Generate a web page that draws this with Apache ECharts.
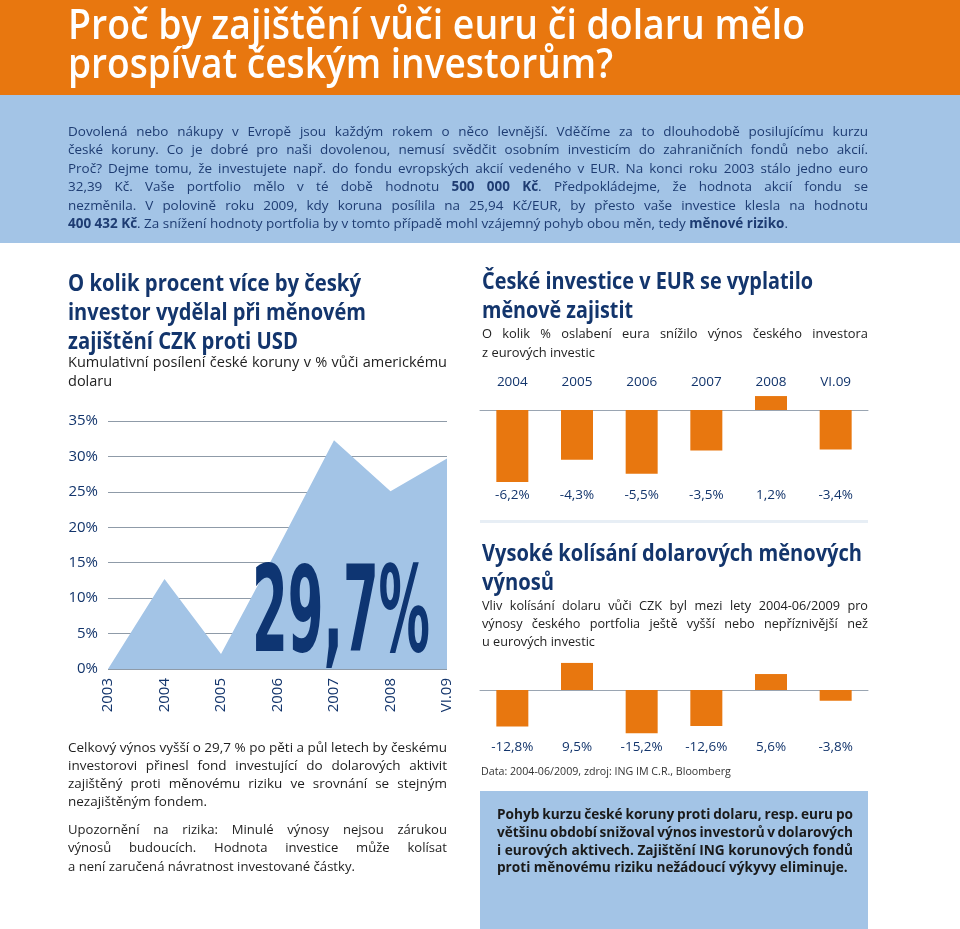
<!DOCTYPE html>
<html><head><meta charset="utf-8">
<script src="https://cdn.jsdelivr.net/npm/echarts@6/dist/echarts.min.js"></script>
<style>
html,body{margin:0;padding:0;background:#fff;}
#page{position:relative;width:960px;height:929px;overflow:hidden;background:#fff;font-family:"Open Sans",sans-serif;}
.bg{position:absolute;z-index:0;}
#chart{position:absolute;left:0;top:0;width:960px;height:929px;z-index:1;}
.ln{position:absolute;white-space:nowrap;z-index:2;}
.ln b{font-weight:700;}
</style></head>
<body><div id="page">
<div class="bg" style="left:0;top:0;width:960px;height:95px;background:#E8770F"></div>
<div class="bg" style="left:0;top:95px;width:960px;height:148px;background:#A3C4E6"></div>
<div class="bg" style="left:480px;top:520px;width:388px;height:3px;background:#E7EEF5"></div>
<div class="bg" style="left:480px;top:791px;width:388px;height:138px;background:#A3C4E6"></div>
<div id="chart"></div>
</div>
<script>
// ---------- data ----------
const years = ['2003','2004','2005','2006','2007','2008','VI.09'];
const usdCumulative = [0, 12.7, 2.1, 17.0, 32.3, 25.1, 29.7];
const yMax = 35, yStep = 5;
const barYears = ['2004','2005','2006','2007','2008','VI.09'];
const eurImpact = [-6.2, -4.3, -5.5, -3.5, 1.2, -3.4];
const usdImpact = [-12.8, 9.5, -15.2, -12.6, 5.6, -3.8];

const NAVY = '#13356C', ORANGE = '#E8770F', BLUE = '#A3C4E6', GRID = '#8F9BA8';
const FONT = '"Open Sans", sans-serif';
const fmt = v => v.toFixed(1).replace('.', ',') + '%';
const page = document.getElementById('page');

// ---------- text helpers ----------
function addLine(html, x, base, fs, weight, color){
  const d = document.createElement('div');
  d.className = 'ln';
  d.innerHTML = html;
  d.style.left = x + 'px';
  d.style.fontWeight = weight;
  d.style.color = color;
  page.appendChild(d);
  setFs(d, fs, base);
  return d;
}
function setFs(d, fs, base){
  const lh = Math.round(fs * 1.4);
  d.style.fontSize = fs + 'px';
  d.style.lineHeight = lh + 'px';
  d.style.top = (base - lh / 2 - 0.388 * fs) + 'px';
}
function w(d){ return d.getBoundingClientRect().width; }
function fit(d, target){ d.style.transformOrigin = '0 0'; d.style.transform = 'scaleX(' + (target / w(d)) + ')'; }
function justify(d, target){
  const n = (d.textContent.match(/ /g) || []).length;
  if (n) d.style.wordSpacing = ((target - w(d)) / n) + 'px';
}
function para(lines, x, width, fs, weight, color, refIdx, refWidth){
  const els = lines.map(l => addLine(l[0], x, l[1], fs, weight, color));
  const f = fs * refWidth / w(els[refIdx]);
  els.forEach((d, i) => { setFs(d, f, lines[i][1]); });
  els.forEach((d, i) => { if (lines[i][2]) justify(d, width); });
  return f;
}
function heading(lines, x, fs, weight, color){
  lines.forEach(l => { const d = addLine(l[0], x, l[1], fs, weight, color); fit(d, l[2]); });
}

// title
heading([['Proč by zajištění vůči euru či dolaru mělo', 39, 737], ['prospívat českým investorům?', 78, 545]], 68, 42, 600, '#fff');

// intro
para([
 ['Dovolená nebo nákupy v Evropě jsou každým rokem o něco levnější. Vděčíme za to dlouhodobě posilujícímu kurzu', 137, true],
 ['české koruny. Co je dobré pro naši dovolenou, nemusí svědčit osobním investicím do zahraničních fondů nebo akcií.', 155, true],
 ['Proč? Dejme tomu, že investujete např. do fondu evropských akcií vedeného v EUR. Na konci roku 2003 stálo jedno euro', 174, true],
 ['32,39 Kč. Vaše portfolio mělo v té době hodnotu <b>500 000 Kč</b>. Předpokládejme, že hodnota akcií fondu se', 192, true],
 ['nezměnila. V polovině roku 2009, kdy koruna posílila na 25,94 Kč/EUR, by přesto vaše investice klesla na hodnotu', 211, true],
 ['<b>400 432 Kč</b>. Za snížení hodnoty portfolia by v tomto případě mohl vzájemný pohyb obou měn, tedy <b>měnové riziko</b>.', 229, false]
], 68, 800, 14, 400, '#1E3C72', 5, 720);

// left heading
heading([
 ['O kolik procent více by český', 291, 293],
 ['investor vydělal při měnovém', 320, 298],
 ['zajištění CZK proti USD', 349, 230]
], 68, 24, 700, NAVY);

// right headings
heading([
 ['České investice v EUR se vyplatilo', 289, 331],
 ['měnově zajistit', 318, 151]
], 482, 24, 700, NAVY);
heading([
 ['Vysoké kolísání dolarových měnových', 561, 380],
 ['výnosů', 590, 72]
], 482, 24, 700, NAVY);

// subtitles
const subFs = para([
 ['O kolik % oslabení eura snížilo výnos českého investora', 338, true],
 ['z eurových investic', 357, false]
], 482, 386, 14, 400, '#222', 1, 113);
para([
 ['Vliv kolísání dolaru vůči CZK byl mezi lety 2004-06/2009 pro', 610, true],
 ['výnosy českého portfolia ještě vyšší nebo nepříznivější než', 628, true],
 ['u eurových investic', 646, false]
], 482, 386, 14, 400, '#222', 2, 113);
para([
 ['Kumulativní posílení české koruny v % vůči americkému', 367, true],
 ['dolaru', 386, false]
], 68, 379, subFs, 400, '#222', 0, 375);

// left bottom paragraphs
const lp = para([
 ['Upozornění na rizika: Minulé výnosy nejsou zárukou', 834, true],
 ['výnosů budoucích. Hodnota investice může kolísat', 852, true],
 ['a není zaručená návratnost investované částky.', 871, false]
], 68, 379, 14, 400, '#1E1E1E', 2, 287);
para([
 ['Celkový výnos vyšší o 29,7 % po pěti a půl letech by českému', 753, true],
 ['investorovi přinesl fond investující do dolarových aktivit', 771, true],
 ['zajištěný proti měnovému riziku ve srovnání se stejným', 789, true],
 ['nezajištěným fondem.', 807, false]
], 68, 379, lp, 400, '#1E1E1E', 0, 379);

// data note
para([['Data: 2004-06/2009, zdroj: ING IM C.R., Bloomberg', 776, false]], 481, 250, 12, 400, '#333', 0, 250);

// box text
para([
 ['Pohyb kurzu české koruny proti dolaru, resp. euru po', 819, true],
 ['většinu období snižoval výnos investorů v dolarových', 837, true],
 ['i eurových aktivech. Zajištění ING korunových fondů', 855, true],
 ['proti měnovému riziku nežádoucí výkyvy eliminuje.', 872, false]
], 497, 356, 14, 700, '#1A1A1A', 3, 351);

// ---------- chart ----------
const headline = fmt(usdCumulative[usdCumulative.length - 1]);
const bigFont = 'bold 120px "Liberation Sans Narrow", "DejaVu Sans Condensed", sans-serif';
const cx = document.createElement('canvas').getContext('2d');
cx.font = bigFont;
const bigScale = 178 / cx.measureText(headline).width;

const lbl = {fontFamily: FONT, color: NAVY};
const chart = echarts.init(document.getElementById('chart'), null, {renderer: 'canvas'});
chart.setOption({
  animation: false,
  backgroundColor: 'transparent',
  grid: [
    {left: 108, top: 421, width: 339, height: 248},
    {left: 480, top: 394.9, width: 388, height: 90.5},
    {left: 480, top: 661.5, width: 388, height: 74.1}
  ],
  xAxis: [
    {gridIndex: 0, type: 'category', data: years, boundaryGap: false,
     axisLine: {show: false}, axisTick: {show: false},
     axisLabel: Object.assign({rotate: 90, margin: 9, fontSize: 15}, lbl)},
    {gridIndex: 1, type: 'category', data: barYears, position: 'top',
     axisLine: {onZero: true, lineStyle: {color: '#9AA5B2', width: 1}}, axisTick: {show: false},
     axisLabel: Object.assign({margin: 6, fontSize: 13.5}, lbl)},
    {gridIndex: 1, type: 'category', data: barYears, position: 'bottom',
     axisLine: {show: false, onZero: false}, axisTick: {show: false},
     axisLabel: Object.assign({margin: 3, fontSize: 13.5, formatter: (v, i) => fmt(eurImpact[i])}, lbl)},
    {gridIndex: 2, type: 'category', data: barYears, position: 'top',
     axisLine: {onZero: true, lineStyle: {color: '#9AA5B2', width: 1}}, axisTick: {show: false},
     axisLabel: {show: false}},
    {gridIndex: 2, type: 'category', data: barYears, position: 'bottom',
     axisLine: {show: false, onZero: false}, axisTick: {show: false},
     axisLabel: Object.assign({margin: 4.5, fontSize: 13.5, formatter: (v, i) => fmt(usdImpact[i])}, lbl)}
  ],
  yAxis: [
    {gridIndex: 0, type: 'value', min: 0, max: yMax, interval: yStep,
     axisLine: {show: false}, axisTick: {show: false},
     axisLabel: Object.assign({formatter: '{value}%', margin: 10, fontSize: 15}, lbl),
     splitLine: {lineStyle: {color: GRID, width: 1}}},
    {gridIndex: 1, type: 'value', min: -6.5, max: 1.3, show: false},
    {gridIndex: 2, type: 'value', min: -16, max: 10, show: false}
  ],
  series: [
    {type: 'line', xAxisIndex: 0, yAxisIndex: 0, data: usdCumulative, symbol: 'none',
     lineStyle: {width: 0}, areaStyle: {color: BLUE, opacity: 1}},
    {type: 'bar', xAxisIndex: 1, yAxisIndex: 1, data: eurImpact, barWidth: 32,
     itemStyle: {color: ORANGE}},
    {type: 'bar', xAxisIndex: 3, yAxisIndex: 2, data: usdImpact, barWidth: 32,
     itemStyle: {color: ORANGE}}
  ],
  graphic: [
    {type: 'text', x: 252, y: 620, scaleX: bigScale, z: 100,
     style: {text: headline, font: bigFont, fill: '#0E3572', verticalAlign: 'middle', align: 'left'}}
  ]
});
</script>
</body></html>
